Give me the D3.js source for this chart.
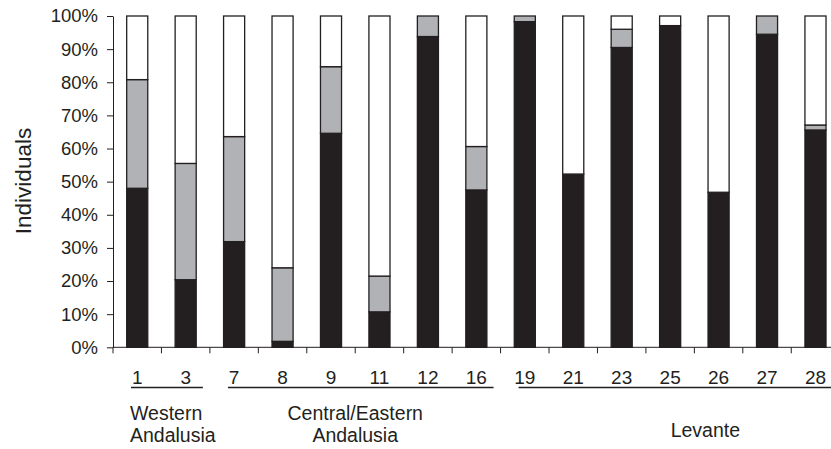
<!DOCTYPE html>
<html>
<head>
<meta charset="utf-8">
<script src="https://cdn.jsdelivr.net/npm/d3@7"></script>
<style>
  body { margin: 0; background: #fff; }
  svg { display: block; font-family: 'Liberation Sans', Arial, sans-serif; }
</style>
</head>
<body>
<div id="container"></div>
<script>
const sites = ['1', '3', '7', '8', '9', '11', '12', '16', '19', '21', '23', '25', '26', '27', '28'];
const blackVals = [48.0, 20.4, 31.9, 1.8, 64.6, 10.7, 93.8, 47.5, 98.3, 52.3, 90.5, 97.1, 46.8, 94.5, 65.6];
const greyVals = [32.8, 35.1, 31.7, 22.2, 20.1, 10.8, 6.2, 13.1, 1.7, 0, 5.5, 0, 0, 5.5, 1.5];
const whiteVals = [19.2, 44.5, 36.4, 76.0, 15.3, 78.5, 0, 39.4, 0, 47.7, 4.0, 2.9, 53.2, 0, 32.9];
const yTicks = [0, 10, 20, 30, 40, 50, 60, 70, 80, 90, 100];
const groupNames = [['Western', 'Andalusia'], ['Central/Eastern', 'Andalusia'], ['Levante']];
const groupFirst = ['1', '7', '19'];
const groupLast = ['3', '16', '28'];

const svgWidth = 831;
const svgHeight = 449;
const plotLeft = 113;
const plotRight = 839.7;
const plotTop = 16;
const plotBottom = 347.3;
const ink = '#231f20';

const svg = d3
  .select('#container')
  .append('svg')
  .attr('width', svgWidth)
  .attr('height', svgHeight);

const rows = sites.map((s, i) => ({
  site: s,
  black: blackVals[i],
  grey: greyVals[i],
  white: whiteVals[i]
}));

const keys = ['black', 'grey', 'white'];
const fills = { black: ink, grey: '#b1b2b5', white: '#ffffff' };
const series = d3.stack().keys(keys)(rows);

const xScale = d3
  .scaleBand()
  .domain(sites)
  .range([plotLeft, plotRight])
  .paddingInner(0.565)
  .paddingOuter(0.2825);

const yScale = d3.scaleLinear().domain([0, 100]).range([plotBottom, plotTop]);

// Bars
svg
  .selectAll('g.layer')
  .data(series)
  .enter()
  .append('g')
  .attr('class', 'layer')
  .attr('fill', d => fills[d.key])
  .selectAll('rect')
  .data(d => d.filter(p => p[1] - p[0] > 0))
  .enter()
  .append('rect')
  .attr('x', d => xScale(d.data.site))
  .attr('y', d => yScale(d[1]))
  .attr('width', xScale.bandwidth())
  .attr('height', d => yScale(d[0]) - yScale(d[1]))
  .attr('stroke', ink)
  .attr('stroke-width', 1.3);

// Y axis
const yAxis = d3
  .axisLeft(yScale)
  .tickValues(yTicks)
  .tickFormat(d => `${d}%`)
  .tickSize(6)
  .tickSizeOuter(0)
  .tickPadding(9);

const gy = svg
  .append('g')
  .attr('transform', `translate(${plotLeft},0)`)
  .call(yAxis);
gy.attr('font-family', null).attr('font-size', null);
gy.select('.domain').attr('stroke', ink);
gy.selectAll('.tick line').attr('stroke', ink);
gy.selectAll('.tick text')
  .attr('fill', ink)
  .style('font-size', '18.5px');

// X axis: line and ticks on band boundaries
const step = xScale.step();
const edge = s => xScale(s) - (step - xScale.bandwidth()) / 2;

svg
  .append('line')
  .attr('x1', plotLeft)
  .attr('x2', plotRight)
  .attr('y1', plotBottom)
  .attr('y2', plotBottom)
  .attr('stroke', ink);

svg
  .selectAll('line.xtick')
  .data(sites)
  .enter()
  .append('line')
  .attr('class', 'xtick')
  .attr('x1', d => edge(d))
  .attr('x2', d => edge(d))
  .attr('y1', plotBottom)
  .attr('y2', plotBottom + 6)
  .attr('stroke', ink);

svg
  .selectAll('text.site')
  .data(sites)
  .enter()
  .append('text')
  .attr('class', 'site')
  .attr('x', d => xScale(d) + xScale.bandwidth() / 2)
  .attr('y', 384)
  .attr('text-anchor', 'middle')
  .attr('fill', ink)
  .style('font-size', '19px')
  .text(d => d);

// Region underlines and labels
svg
  .selectAll('line.group')
  .data(groupNames)
  .enter()
  .append('line')
  .attr('class', 'group')
  .attr('x1', (d, i) => edge(groupFirst[i]) + 18)
  .attr('x2', (d, i) => edge(groupLast[i]) + step - 7)
  .attr('y1', 387.5)
  .attr('y2', 387.5)
  .attr('stroke', ink)
  .attr('stroke-width', 1.3);

const labelX = [
  edge('1') + 17,
  (edge('7') + edge('16') + step) / 2,
  edge('26') + 11
];
const labelAnchor = ['start', 'middle', 'middle'];
const labelY = [420, 420, 437];

groupNames.forEach((lines, i) => {
  const t = svg
    .append('text')
    .attr('x', labelX[i])
    .attr('y', labelY[i])
    .attr('text-anchor', labelAnchor[i])
    .attr('fill', ink)
    .style('font-size', '19.5px');
  lines.forEach((l, j) => {
    t.append('tspan')
      .attr('x', labelX[i])
      .attr('dy', j === 0 ? 0 : 22)
      .text(l);
  });
});

// Y title
svg
  .append('text')
  .attr('transform', `translate(31,181) rotate(-90)`)
  .attr('text-anchor', 'middle')
  .attr('fill', ink)
  .style('font-size', '22.5px')
  .text('Individuals');
</script>
</body>
</html>
